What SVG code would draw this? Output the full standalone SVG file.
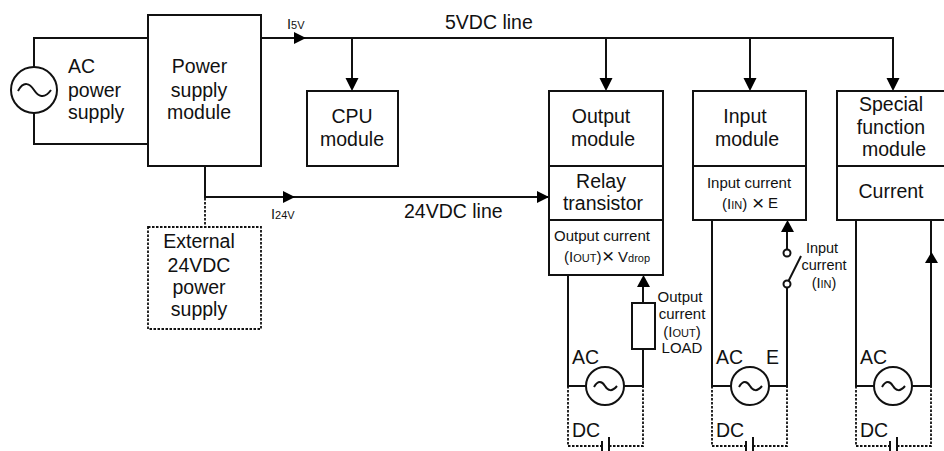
<svg xmlns="http://www.w3.org/2000/svg" width="944" height="451" viewBox="0 0 944 451">
<style>
.b{fill:#fff;stroke:#111;stroke-width:2}
.l{fill:none;stroke:#111;stroke-width:2}
.d{fill:none;stroke:#111;stroke-width:1.800;stroke-dasharray:2.500 1.500}
.a{fill:#000}
text{font-family:"Liberation Sans",Arial,sans-serif;fill:#111}
.t{font-size:19.500px}
.s{font-size:15px}
.x{font-size:14.500px}
.m{text-anchor:middle}
.u{font-size:11px}
</style>
<rect width="944" height="451" fill="#fff"/>
<g id="connectors">
<path class="l" d="M148 38H34V67M34 113V144H148"/>
<path class="l" d="M261 38H893V78M352 38V78M606 38V78M750 38V78"/>
<path class="a" d="M294 32L306 38L294 44ZM345.500 78H358.500L352 91ZM599.500 78H612.500L606 91ZM743.500 78H756.500L750 91ZM886.500 78H899.500L893 91Z"/>
<path class="l" d="M205 166V197H549"/>
<path class="a" d="M283 191L295 197L283 203ZM537 191L549 197L537 203Z"/>
<path class="d" d="M205 198V227"/>
<path class="l" d="M568 275V386H586M624 386H643V349M643 303V287"/>
<path class="a" d="M637 287H650L643.500 275Z"/>
<path class="d" d="M568 386V446H602M609 446H643V386"/>
<path class="l" d="M602 441V451M609 437V451"/>
<path class="l" d="M712 220V386H731M769 386H787V288M787 250V232"/>
<path class="a" d="M781 232H794L787.500 220Z"/>
<path class="l" d="M787 284L801 256"/>
<path class="d" d="M712 386V446H746M753 446H787V386"/>
<path class="l" d="M746 441V451M753 437V451"/>
<path class="l" d="M856 220V386H874M912 386H931V220"/>
<path class="a" d="M925 263H938L931.500 252Z"/>
<path class="d" d="M856 386V446H890M897 446H931V386"/>
<path class="l" d="M890 441V451M897 437V451"/>
</g>
<g id="ac-source"><circle class="b" cx="34" cy="90" r="23"/><path class="l" d="M18 91C24 80 30 84 34 90S44 100 51 90"/></g>
<g id="ac-label"><text class="t" x="68" y="73">AC</text><text class="t" x="68" y="97">power</text><text class="t" x="68" y="119">supply</text></g>
<g id="power-supply"><rect class="b" x="148" y="15" width="113" height="151"/><text class="t m" x="199.500" y="73">Power</text><text class="t m" x="199" y="97">supply</text><text class="t m" x="199" y="119">module</text></g>
<g id="cpu"><rect class="b" x="307" y="91" width="91" height="75"/><text class="t m" x="352" y="123">CPU</text><text class="t m" x="352" y="146">module</text></g>
<g id="output"><rect class="b" x="549" y="91" width="114" height="184"/><path class="l" d="M549 166H663M549 220H663"/><text class="t m" x="601" y="123">Output</text><text class="t m" x="603" y="146">module</text><text class="t m" x="601" y="188">Relay</text><text class="t m" x="603" y="210">transistor</text><text class="s m" x="602" y="241">Output current</text><text class="s" x="564" y="262">(I<tspan class="u">OUT</tspan>)</text><text font-size="21" x="602" y="263">×</text><text class="s" x="618" y="262">V<tspan class="u">drop</tspan></text></g>
<g id="input"><rect class="b" x="693" y="91" width="113" height="129"/><path class="l" d="M693 166H806"/><text class="t m" x="745" y="123">Input</text><text class="t m" x="747" y="146">module</text><text class="s m" x="749" y="188">Input current</text><text class="s" x="722" y="209">(I<tspan class="u">IN</tspan>)</text><text font-size="21" x="752" y="210">×</text><text class="s" x="768" y="208">E</text></g>
<g id="special"><rect class="b" x="837" y="91" width="120" height="129"/><path class="l" d="M837 166H944"/><text class="t m" x="891" y="111">Special</text><text class="t m" x="891" y="134">function</text><text class="t m" x="894" y="156">module</text><text class="t m" x="891" y="198">Current</text></g>
<g id="external"><rect class="d" x="148" y="227" width="113" height="102"/><text class="t m" x="199" y="248">External</text><text class="t m" x="199" y="272">24VDC</text><text class="t m" x="199" y="294">power</text><text class="t m" x="199" y="316">supply</text></g>
<g id="load"><rect class="b" x="632" y="303" width="23" height="46"/><text class="s m" x="680" y="302">Output</text><text class="s m" x="682" y="319">current</text><text class="s m" x="682" y="337">(I<tspan class="u">OUT</tspan>)</text><text class="s m" x="682" y="353">LOAD</text></g>
<g id="switch"><circle class="b" cx="787" cy="253" r="3.500"/><circle class="b" cx="787" cy="284" r="3.500"/><text class="x m" x="822" y="253">Input</text><text class="x m" x="824" y="270">current</text><text class="x m" x="824" y="288">(I<tspan class="u">IN</tspan>)</text></g>
<g id="ac1"><circle class="b" cx="605" cy="386" r="19"/><path class="l" d="M594 387C598 380 602 381 605 386S612 392 617 386"/><text class="t" x="572" y="364">AC</text><text class="t" x="572" y="437">DC</text></g>
<g id="ac2"><circle class="b" cx="750" cy="386" r="19"/><path class="l" d="M739 387C743 380 747 381 750 386S757 392 762 386"/><text class="t" x="716" y="364">AC</text><text class="t" x="766" y="364">E</text><text class="t" x="716" y="437">DC</text></g>
<g id="ac3"><circle class="b" cx="893" cy="386" r="19"/><path class="l" d="M882 387C886 380 890 381 893 386S900 392 905 386"/><text class="t" x="860" y="364">AC</text><text class="t" x="860" y="437">DC</text></g>
<g id="labels"><text class="t" x="445" y="29">5VDC line</text><text class="t" x="404" y="218">24VDC line</text><text class="x" x="287" y="29">I<tspan class="u">5V</tspan></text><text class="x" x="271" y="219">I<tspan class="u">24V</tspan></text></g>
</svg>
